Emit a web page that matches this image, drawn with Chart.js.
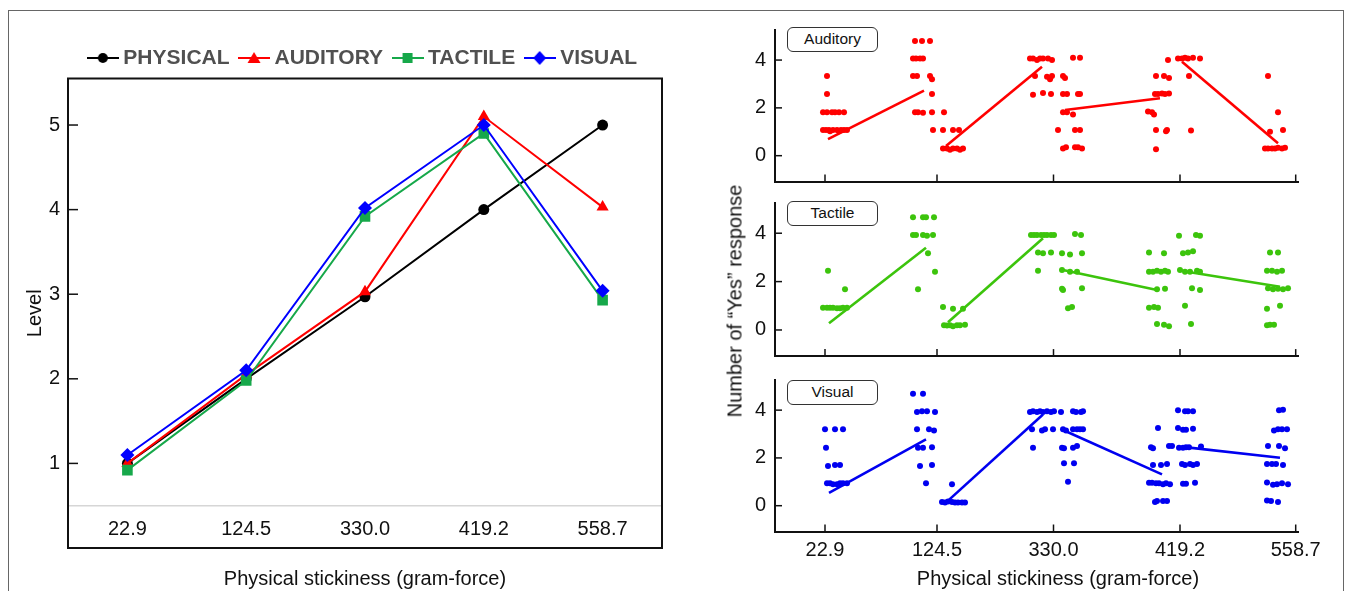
<!DOCTYPE html>
<html><head><meta charset="utf-8">
<script src="https://cdn.jsdelivr.net/npm/chart.js@4.4.1/dist/chart.umd.min.js"></script>
<style>
html,body{margin:0;padding:0;background:#fff;}
body{width:1357px;height:591px;position:relative;overflow:hidden;font-family:"Liberation Sans",Arial,sans-serif;}
#frame{position:absolute;left:8px;top:10px;width:1336px;height:600px;border:1px solid #666;border-bottom:none;box-sizing:border-box;}
.cv{position:absolute;}
.tag{position:absolute;left:787px;width:91px;height:25px;border:1.3px solid #333;border-radius:6px;box-sizing:border-box;font-size:15.5px;line-height:22.5px;text-align:center;color:#111;background:#fff;}
#ytitle{position:absolute;left:735px;top:301px;transform:translate(-50%,-50%) rotate(-90deg);font-size:20px;white-space:nowrap;color:#111;}
#xtitleR{position:absolute;left:1058px;top:578px;transform:translate(-50%,-50%);font-size:20px;white-space:nowrap;color:#111;}
</style></head>
<body>
<div id="frame"></div>
<div class="cv" style="left:0;top:0;width:700px;height:591px"><canvas id="left"></canvas></div>
<div class="cv" style="left:700px;top:0;width:657px;height:190px"><canvas id="aud"></canvas></div>
<div class="cv" style="left:700px;top:190px;width:657px;height:175px"><canvas id="tac"></canvas></div>
<div class="cv" style="left:700px;top:365px;width:657px;height:226px"><canvas id="vis"></canvas></div>
<div class="tag" style="top:27px">Auditory</div>
<div class="tag" style="top:201px">Tactile</div>
<div class="tag" style="top:380px">Visual</div>
<div id="ytitle">Number of “Yes” response</div>
<div id="xtitleR">Physical stickiness (gram-force)</div>
<script>
// ---------- data: left chart ----------
const categories = ['22.9', '124.5', '330.0', '419.2', '558.7'];
const physical = [1.00, 2.00, 2.97, 4.00, 5.00];
const auditory = [1.00, 2.05, 3.03, 5.10, 4.03];
const tactile  = [0.92, 1.98, 3.92, 4.90, 2.93];
const visual   = [1.10, 2.10, 4.02, 5.00, 3.04];
const levelTicks = [1, 2, 3, 4, 5];

// ---------- data: right panels ----------
const xTickLabels = ['22.9', '124.5', '330.0', '419.2', '558.7'];
const xTickPos = [0, 11.2, 22.85, 35.5, 47.07];
const yesTicks = [0, 2, 4];

const auditoryDots = [
 [0.2,3.33],[0.2,2.58],[-0.2,1.82],[0.2,1.82],[0.7,1.82],[1.0,1.82],[1.4,1.82],[1.9,1.82],
 [-0.2,1.07],[0.1,1.07],[0.4,1.07],[0.8,1.07],[1.2,1.07],[1.6,1.07],[1.9,1.07],[2.2,1.07],[0.5,1.02],[1.4,1.02],
 [9.0,4.8],[9.7,4.8],[10.5,4.8],[8.8,4.07],[9.1,4.07],[9.5,4.07],[9.8,4.07],[8.8,3.33],[9.2,3.33],[10.5,3.33],
 [10.7,3.2],[10.7,2.58],[9.0,1.82],[9.3,1.82],[9.8,1.8],[10.7,1.82],[10.8,1.07],
 [11.9,1.82],[11.8,1.07],[12.8,1.07],[13.4,1.07],[11.8,0.3],[12.2,0.3],[12.5,0.25],[12.8,0.3],[13.2,0.3],[13.5,0.25],[13.8,0.3],
 [20.5,4.07],[20.8,4.07],[21.2,4.0],[21.5,4.07],[21.8,4.07],[22.3,4.07],[22.7,4.0],[21.0,3.33],[22.2,3.3],[22.7,3.33],
 [22.5,3.2],[20.8,2.55],[21.8,2.62],[22.6,2.58],
 [24.8,4.1],[25.5,4.1],[23.8,3.33],[24.0,3.25],[23.8,2.58],[24.2,2.58],[25.3,2.58],[25.5,2.58],[23.8,1.82],[24.2,1.82],
 [24.8,1.72],[23.3,1.07],[25.0,1.07],[25.5,1.07],[23.8,0.3],[24.1,0.35],[25.0,0.35],[25.3,0.35],[25.7,0.3],
 [34.3,4.0],[33.1,3.33],[33.9,3.33],[34.4,3.25],[33.0,2.58],[33.3,2.58],[33.7,2.6],[34.0,2.58],[34.4,2.6],
 [32.3,1.85],[32.7,1.82],[32.9,1.72],[33.1,1.07],[34.1,1.02],[34.2,1.07],[33.1,0.27],
 [35.3,4.07],[35.7,4.07],[36.0,4.1],[36.3,4.07],[36.8,4.1],[37.5,4.07],[36.4,3.33],[36.6,1.05],
 [44.3,3.33],[45.3,1.82],[45.8,1.07],[44.5,1.0],[44.0,0.3],[44.3,0.3],[44.7,0.3],[45.0,0.3],[45.3,0.33],[45.7,0.3],[46.0,0.33]
];
const auditoryFits = [[0.3,0.69,9.9,2.72],[12.1,0.41,21.7,3.72],[24.0,1.91,33.5,2.40],[35.7,3.93,45.3,0.52]];

const tactileDots = [
 [0.3,2.45],[2.0,1.68],[-0.2,0.92],[0.2,0.92],[0.5,0.92],[0.8,0.92],[1.2,0.9],[1.5,0.9],[1.8,0.92],[2.2,0.92],
 [8.8,4.66],[9.8,4.66],[10.1,4.66],[10.9,4.66],[8.8,3.93],[9.1,3.93],[9.8,3.93],[10.2,3.9],[10.8,3.93],[10.3,3.17],[11.0,2.41],[9.3,1.68],
 [11.8,0.95],[12.8,0.88],[13.8,0.88],[11.9,0.2],[12.2,0.18],[12.5,0.2],[12.8,0.15],[13.2,0.2],[13.5,0.2],[14.0,0.22],
 [20.6,3.93],[20.9,3.93],[21.2,3.93],[21.6,3.93],[21.9,3.93],[22.2,3.93],[22.6,3.93],[22.9,3.93],[21.3,3.2],[21.8,3.17],[22.6,3.2],[21.3,2.45],
 [25.0,3.97],[25.6,3.93],[23.7,3.17],[24.5,3.12],[25.7,3.17],[23.7,2.48],[24.5,2.41],[25.2,2.41],[23.7,1.7],[23.8,1.65],[25.7,1.72],[24.3,0.9],[24.7,0.95],
 [32.4,3.2],[33.9,3.17],[32.4,2.41],[32.8,2.41],[33.2,2.45],[33.6,2.41],[34.0,2.45],[34.3,2.41],[33.2,1.68],[34.0,1.7],
 [32.4,0.92],[32.9,0.95],[33.3,0.92],[33.2,0.25],[33.9,0.22],[34.4,0.15],
 [35.4,3.9],[37.1,3.93],[37.5,3.9],[35.8,3.17],[36.3,3.2],[36.8,3.25],[35.5,2.48],[36.0,2.41],[36.5,2.41],[37.2,2.45],[37.5,2.41],
 [36.7,1.72],[37.5,1.65],[36.0,1.0],[36.6,0.25],
 [44.5,3.2],[45.3,3.2],[44.2,2.45],[44.7,2.45],[45.2,2.41],[45.7,2.45],[44.3,1.72],[44.8,1.68],[45.3,1.7],[45.8,1.68],[46.3,1.72],
 [44.2,0.88],[45.5,1.0],[44.2,0.2],[44.5,0.22],[44.9,0.22]
];
const tactileFits = [[0.4,0.28,10.1,3.40],[12.3,0.32,21.8,3.79],[23.8,2.48,33.2,1.65],[36.2,2.41,45.5,1.79]];

const visualDots = [
 [0.0,3.2],[1.0,3.2],[1.8,3.2],[0.1,2.43],[0.3,1.66],[1.0,1.7],[1.5,1.7],[0.2,0.94],[0.5,0.94],[0.8,0.9],[1.2,0.9],[1.5,0.94],[1.8,0.94],[2.2,0.94],
 [8.8,4.69],[9.8,4.69],[9.2,3.92],[9.7,3.95],[10.2,3.95],[11.0,3.92],[9.2,3.2],[10.4,3.2],[10.9,3.15],[9.3,2.43],[9.8,2.43],[10.7,2.45],
 [9.5,1.66],[10.7,1.7],[10.1,0.94],
 [12.7,0.9],[11.7,0.15],[12.0,0.13],[12.3,0.18],[12.7,0.15],[13.0,0.13],[13.3,0.13],[13.7,0.13],[14.0,0.13],
 [20.5,3.92],[20.8,3.95],[21.2,3.92],[21.5,3.95],[21.8,3.92],[22.2,3.95],[22.6,3.92],[22.9,3.95],[20.7,3.2],[21.7,3.15],[22.0,3.2],[22.8,3.2],[20.8,2.43],
 [23.6,3.92],[24.8,3.95],[25.1,3.92],[25.6,3.92],[25.8,3.95],[23.8,3.2],[24.1,3.15],[24.8,3.2],[25.2,3.2],[25.5,3.2],[25.8,3.2],
 [23.7,2.43],[23.9,2.4],[24.8,2.43],[25.2,2.5],[23.9,1.78],[24.9,1.78],[24.3,1.0],
 [33.3,3.25],[32.6,2.45],[32.8,2.4],[34.4,2.5],[34.7,2.5],[32.8,1.7],[33.6,1.7],[34.2,1.75],
 [32.4,0.96],[32.7,0.96],[33.1,0.94],[33.4,0.94],[33.8,0.9],[34.1,0.94],[34.5,0.9],[33.0,0.15],[33.2,0.2],[33.8,0.2],[34.2,0.2],
 [35.3,4.0],[36.0,3.95],[36.3,3.95],[36.8,3.95],[35.3,3.25],[35.8,3.18],[36.1,3.18],[36.8,3.22],
 [35.4,2.43],[35.8,2.43],[36.1,2.45],[36.4,2.45],[37.6,2.48],[35.7,1.75],[36.0,1.7],[36.5,1.75],[36.8,1.7],[37.2,1.75],
 [35.8,0.92],[36.1,0.92],[37.0,0.96],
 [45.4,4.0],[45.8,4.02],[44.9,3.15],[45.3,3.2],[45.7,3.2],[46.2,3.2],[44.3,2.5],[45.4,2.5],[46.0,2.4],
 [44.2,1.75],[44.7,1.75],[45.1,1.75],[45.8,1.7],[44.2,0.97],[44.8,0.88],[45.2,0.9],[45.7,0.94],[46.3,0.9],
 [44.2,0.22],[44.6,0.2],[45.3,0.15]
];
const visualFits = [[0.4,0.54,10.1,2.78],[12.2,0.17,21.8,3.82],[23.8,3.17,33.7,1.31],[36.2,2.44,45.5,2.01]];

// ---------- left chart ----------
const INK = '#111111';
const FONT = '"Liberation Sans", Arial, sans-serif';
function legendSample(color, style) {
  const c = document.createElement('canvas'); c.width = 32; c.height = 16;
  const g = c.getContext('2d');
  g.strokeStyle = color; g.lineWidth = 2;
  g.beginPath(); g.moveTo(0, 8); g.lineTo(32, 8); g.stroke();
  g.fillStyle = color; g.beginPath();
  if (style === 'circle') g.arc(16, 8, 5, 0, Math.PI * 2);
  else if (style === 'triangle') { g.moveTo(16, 2); g.lineTo(22.5, 13); g.lineTo(9.5, 13); g.closePath(); }
  else if (style === 'rect') g.rect(11, 3, 10, 10);
  else { g.moveTo(16, 1); g.lineTo(22.5, 8); g.lineTo(16, 15); g.lineTo(9.5, 8); g.closePath(); }
  g.fill();
  return c;
}
const series = [
  {label: 'PHYSICAL', data: physical, color: '#000000', style: 'circle', r: 5.5, order: 4},
  {label: 'AUDITORY', data: auditory, color: '#ff0000', style: 'triangle', r: 7, order: 3},
  {label: 'TACTILE',  data: tactile,  color: '#16a84a', style: 'rect', r: 7.5, order: 2},
  {label: 'VISUAL',   data: visual,   color: '#0000ff', style: 'rectRot', r: 7, order: 1}
];
const leftDecor = {
  id: 'leftDecor',
  afterLayout(chart) {
    const a = chart.chartArea;
    if (chart.legend) { chart.legend.left = a.left; chart.legend.right = a.right; }
  },
  beforeDatasetsDraw(chart) {
    const {ctx, chartArea: a, scales: {y}} = chart;
    const py = y.getPixelForValue(0.5);
    ctx.save(); ctx.strokeStyle = '#d6d6d6'; ctx.lineWidth = 1.5;
    ctx.beginPath(); ctx.moveTo(a.left, py); ctx.lineTo(a.right, py); ctx.stroke(); ctx.restore();
  },
  afterDraw(chart) {
    const {ctx, chartArea: a, scales: {y}} = chart;
    ctx.save(); ctx.strokeStyle = INK; ctx.lineWidth = 2;
    ctx.strokeRect(a.left, a.top, a.right - a.left, a.bottom - a.top);
    ctx.lineWidth = 1.5;
    y.ticks.forEach(t => { const py = y.getPixelForValue(t.value);
      ctx.beginPath(); ctx.moveTo(a.left, py); ctx.lineTo(a.left + 10, py); ctx.stroke(); });
    ctx.restore();
  }
};
new Chart(document.getElementById('left'), {
  type: 'line',
  data: {
    labels: categories,
    datasets: series.map(s => ({
      label: s.label, data: s.data, borderColor: s.color, backgroundColor: s.color,
      pointBackgroundColor: s.color, pointBorderColor: s.color, pointStyle: s.style, pointRadius: s.r,
      pointBorderWidth: 0, borderWidth: 2, tension: 0, order: s.order, _sample: legendSample(s.color, s.style)
    }))
  },
  options: {
    responsive: true, maintainAspectRatio: false, animation: false,
    layout: {padding: {left: 0, right: 38, top: 33, bottom: 0}},
    plugins: {
      tooltip: {enabled: false},
      legend: {
        position: 'top',
        labels: {
          usePointStyle: true, pointStyleWidth: 20, padding: 14.5, color: '#505050',
          font: {family: FONT, size: 21, weight: 'bold'},
          sort: (a, b) => a.datasetIndex - b.datasetIndex,
          generateLabels(chart) {
            return chart.data.datasets.map((d, i) => ({
              text: d.label, pointStyle: d._sample, fillStyle: d.borderColor, strokeStyle: d.borderColor,
              lineWidth: 0, hidden: false, datasetIndex: i, fontColor: '#505050'
            }));
          }
        }
      }
    },
    scales: {
      x: {
        type: 'category', offset: true,
        grid: {display: false, drawTicks: false}, border: {display: false},
        ticks: {mirror: true, padding: 7, maxRotation: 0, color: INK, font: {family: FONT, size: 20}},
        title: {display: true, text: 'Physical stickiness (gram-force)', color: INK,
          font: {family: FONT, size: 20}, padding: {top: 0, bottom: 0}},
        afterFit(s) { s.height = 43; s.paddingLeft = 0; s.paddingRight = 0; }
      },
      y: {
        min: 0, max: 5.55,
        grid: {display: false, drawTicks: false}, border: {display: false},
        afterBuildTicks(s) { s.ticks = levelTicks.map(v => ({value: v})); },
        ticks: {padding: 8, color: INK, font: {family: FONT, size: 20}},
        title: {display: true, text: 'Level', color: INK,
          font: {family: FONT, size: 20}, padding: {top: 23, bottom: 0}},
        afterFit(s) { s.width = 68; s.paddingTop = 0; s.paddingBottom = 0; }
      }
    }
  },
  plugins: [leftDecor]
});

// ---------- right panels ----------
const innerTicks = {
  id: 'innerTicks',
  afterDraw(chart) {
    const {ctx, chartArea: a, scales: {x, y}} = chart;
    ctx.save(); ctx.strokeStyle = INK; ctx.lineWidth = 1.5;
    x.ticks.forEach(t => { const px = x.getPixelForValue(t.value);
      ctx.beginPath(); ctx.moveTo(px, a.bottom); ctx.lineTo(px, a.bottom - 7); ctx.stroke(); });
    y.ticks.forEach(t => { const py = y.getPixelForValue(t.value);
      ctx.beginPath(); ctx.moveTo(a.left, py); ctx.lineTo(a.left + 7, py); ctx.stroke(); });
    ctx.restore();
  }
};
function panel(id, dots, fits, color, padTop, xHeight, showX) {
  new Chart(document.getElementById(id), {
    type: 'scatter',
    data: {
      datasets: [
        {data: dots.map(([x, y]) => ({x, y})), pointRadius: 3, pointBackgroundColor: color,
         pointBorderWidth: 0, showLine: false, order: 1},
        ...fits.map(f => ({data: [{x: f[0], y: f[1]}, {x: f[2], y: f[3]}], borderColor: color,
          borderWidth: 2.6, pointRadius: 0, showLine: true, order: 0}))
      ]
    },
    options: {
      responsive: true, maintainAspectRatio: false, animation: false,
      layout: {padding: {left: 0, right: 59, top: padTop, bottom: 0}},
      plugins: {legend: {display: false}, tooltip: {enabled: false}},
      scales: {
        x: {
          type: 'linear', min: -5, max: 47.3, bounds: 'data',
          grid: {display: false, drawTicks: false}, border: {display: true, width: 2, color: INK},
          afterBuildTicks(s) { s.ticks = xTickPos.map(v => ({value: v})); },
          ticks: {display: showX, autoSkip: false, maxRotation: 0, padding: 6.5, color: INK,
            font: {family: FONT, size: 20},
            callback: (v, i) => xTickLabels[i]},
          afterFit(s) { s.height = xHeight; s.paddingLeft = 0; s.paddingRight = 0; }
        },
        y: {
          type: 'linear', min: -1.08, max: 5.27,
          grid: {display: false, drawTicks: false}, border: {display: true, width: 2, color: INK},
          afterBuildTicks(s) { s.ticks = yesTicks.map(v => ({value: v})); },
          ticks: {padding: 9, color: INK, font: {family: FONT, size: 20}},
          afterFit(s) { s.width = 75; s.paddingTop = 0; s.paddingBottom = 0; }
        }
      }
    },
    plugins: [innerTicks]
  });
}
panel('aud', auditoryDots, auditoryFits, '#ff0000', 29.7, 8.5, false);
panel('tac', tactileDots, tactileFits, '#3cc40c', 12.5, 8.9, false);
panel('vis', visualDots, visualFits, '#0000f0', 14.8, 59.5, true);
</script>
</body></html>
